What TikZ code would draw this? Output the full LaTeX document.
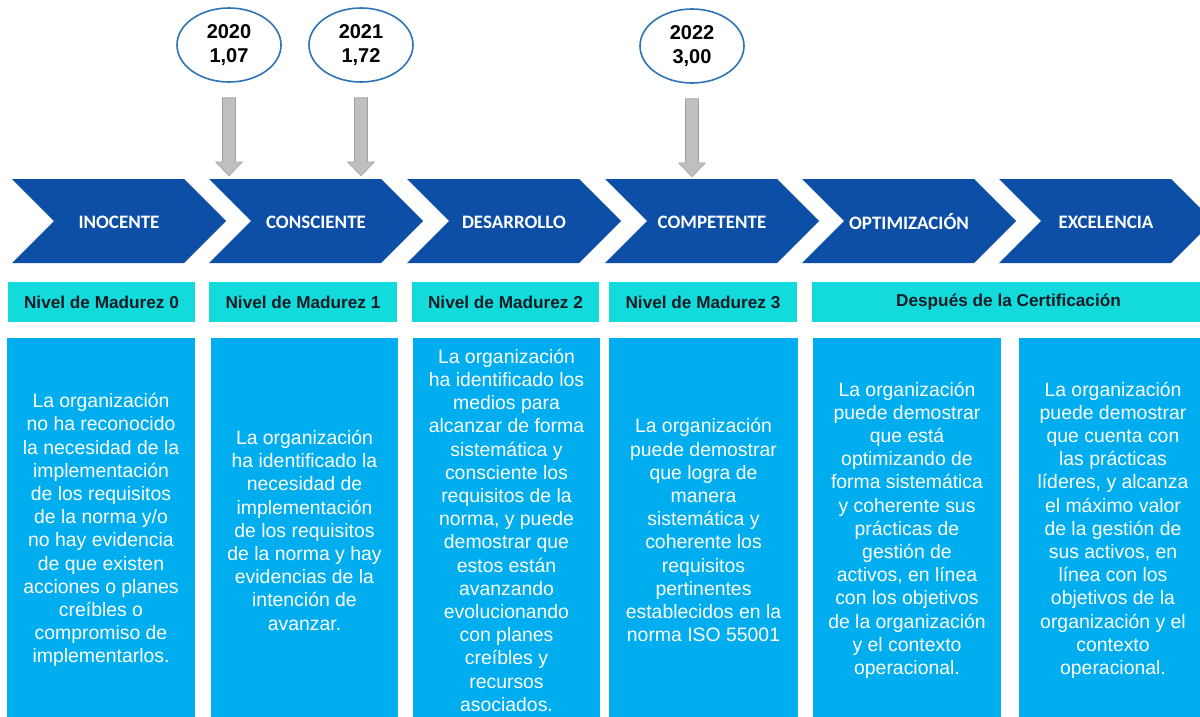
\documentclass[tikz,border=0pt]{standalone}
\usepackage{fontspec}
\setmainfont{Liberation Sans}
\newfontfamily\chevfont{Carlito}
\usetikzlibrary{calc,shapes.geometric}
\definecolor{chevblue}{RGB}{13,79,167}
\definecolor{headcyan}{RGB}{20,219,219}
\definecolor{boxblue}{RGB}{0,174,239}
\definecolor{ellblue}{RGB}{46,117,182}
\definecolor{arrgray}{RGB}{191,191,191}
\definecolor{arredge}{RGB}{160,160,160}
\definecolor{headtext}{RGB}{22,28,38}
\begin{document}
\begin{tikzpicture}[x=1pt,y=-1pt,
  chevshape/.style={fill=chevblue},
  chevtext/.style={text=white,font=\chevfont\bfseries\fontsize{19}{22}\selectfont,inner sep=0},
  headbar/.style={fill=headcyan,minimum height=40,inner sep=0,text=headtext,font=\bfseries\fontsize{17.2}{20}\selectfont},
  infobox/.style={fill=boxblue,anchor=north,minimum height=384,inner sep=0,align=center,text=white,font=\fontsize{19.4}{23.2}\selectfont},
  ell/.style={ellipse,draw=ellblue,line width=1.6,fill=white,minimum width=104,minimum height=74,inner sep=0,align=center,font=\bfseries\fontsize{20}{24}\selectfont},
  garrow/.style={fill=arrgray,draw=arredge,line width=0.6},
  downarrow/.pic={\draw[garrow] (-6.5,15) -- (6.5,15) -- (6.5,79) -- (13.5,79) -- (0,93) -- (-13.5,79) -- (-6.5,79) -- cycle;}
]
\useasboundingbox (0,0) rectangle (1200,717);
\fill[white] (0,0) rectangle (1200,717);
\begin{scope}
\clip (0,0) rectangle (1200,717);
% chevrons
\foreach \xo/\lab/\nm in {12/INOCENTE/c1,209/CONSCIENTE/c2,407/DESARROLLO/c3,605/COMPETENTE/c4,802/OPTIMIZACIÓN/c5,999/EXCELENCIA/c6}{
  \fill[chevshape] (\xo,179) -- (\xo+172,179) -- (\xo+214,221) -- (\xo+172,263) -- (\xo,263) -- (\xo+42,221) -- cycle;
  \node[chevtext] (\nm) at (\xo+107,222) {\lab};
}
% year ellipses
\node[ell] (e1) at (229,45) {2020\\1,07};
\node[ell] (e2) at (361,45) {2021\\1,72};
\node[ell] (e3) at (692,46) {2022\\3,00};
\pic at (e1.south) {downarrow};
\pic at (e2.south) {downarrow};
\pic at (e3.south) {downarrow};
% header bars
\node[headbar,minimum width=187] (h1) at (101.5,302) {Nivel de Madurez 0};
\node[headbar,minimum width=188] (h2) at (303,302) {Nivel de Madurez 1};
\node[headbar,minimum width=187] (h3) at (505.5,302) {Nivel de Madurez 2};
\node[headbar,minimum width=188] (h4) at (703,302) {Nivel de Madurez 3};
\node[headbar,minimum width=393] (h5) at (1008.5,302) {Después de la Certificación};
% description boxes
\node[infobox,minimum width=188] (b1) at (101,338) {La organización\\no ha reconocido\\la necesidad de la\\implementación\\de los requisitos\\de la norma y/o\\no hay evidencia\\de que existen\\acciones o planes\\creíbles o\\compromiso de\\implementarlos.};
\node[infobox,minimum width=187] (b2) at (304.5,338) {La organización\\ha identificado la\\necesidad de\\implementación\\de los requisitos\\de la norma y hay\\evidencias de la\\intención de\\avanzar.};
\node[infobox,minimum width=187] (b3) at (506.5,338) {La organización\\ha identificado los\\medios para\\alcanzar de forma\\sistemática y\\consciente los\\requisitos de la\\norma, y puede\\demostrar que\\estos están\\avanzando\\evolucionando\\con planes\\creíbles y\\recursos\\asociados.};
\node[infobox,minimum width=189] (b4) at (703.5,338) {La organización\\puede demostrar\\que logra de\\manera\\sistemática y\\coherente los\\requisitos\\pertinentes\\establecidos en la\\norma ISO 55001};
\node[infobox,minimum width=188] (b5) at (907,338) {La organización\\puede demostrar\\que está\\optimizando de\\forma sistemática\\y coherente sus\\prácticas de\\gestión de\\activos, en línea\\con los objetivos\\de la organización\\y el contexto\\operacional.};
\node[infobox,minimum width=188] (b6) at (1113,338) {La organización\\puede demostrar\\que cuenta con\\las prácticas\\líderes, y alcanza\\el máximo valor\\de la gestión de\\sus activos, en\\línea con los\\objetivos de la\\organización y el\\contexto\\operacional.};
\end{scope}
\end{tikzpicture}
\end{document}
